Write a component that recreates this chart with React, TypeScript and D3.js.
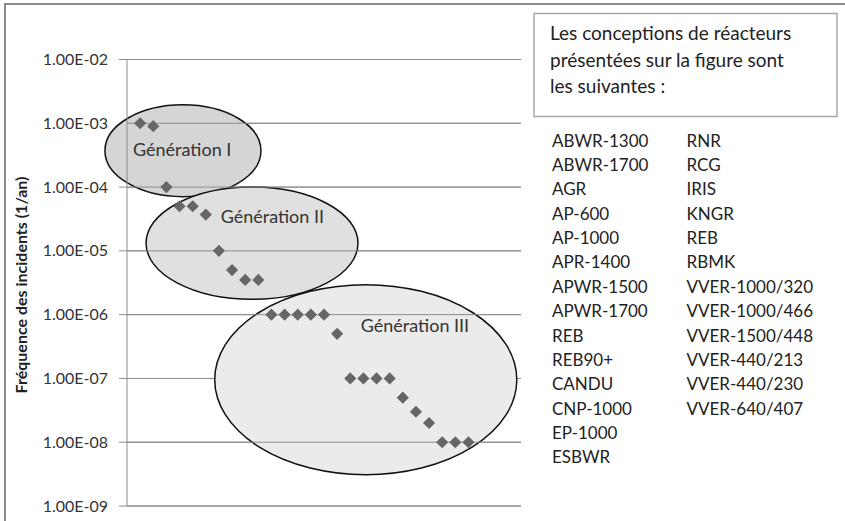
import React from 'react';
import * as d3 from 'd3';

// fréquence des incidents (1/an), one point per reactor design
const designIndex = [1, 2, 3, 4, 5, 6, 7, 8, 9, 10, 11, 12, 13, 14, 15, 16, 17, 18, 19, 20, 21, 22, 23, 24, 25, 26];
const frequencies = [
  1e-3, 9e-4, 1e-4, 5e-5, 5e-5, 3.7e-5, 1e-5, 5e-6, 3.5e-6, 3.5e-6,
  1e-6, 1e-6, 1e-6, 1e-6, 1e-6, 5e-7, 1e-7, 1e-7, 1e-7, 1e-7,
  5e-8, 3e-8, 2e-8, 1e-8, 1e-8, 1e-8,
];

const yTicks = [1e-2, 1e-3, 1e-4, 1e-5, 1e-6, 1e-7, 1e-8, 1e-9];
const yTickLabels = ['1.00E-02', '1.00E-03', '1.00E-04', '1.00E-05', '1.00E-06', '1.00E-07', '1.00E-08', '1.00E-09'];
// gridline hidden under the Génération III shape in the original
const hiddenGrid = [1e-7];

// generation groups: centre (x index, log10 value), radii (x units, decades)
const genNames = ['Génération I', 'Génération II', 'Génération III'];
const genCx = [4.26, 9.52, 18.18];
const genCy = [-3.43, -4.88, -7.02];
const genRx = [5.94, 8.07, 11.5];
const genRy = [0.72, 0.88, 1.49];
const genLabelX = [0.46, 7.13, 17.8];
const genLabelY = [-3.52, -4.56, -6.27];
const genFill = ['#d5d5d5', '#e0e0e0', '#ebebeb'];

const introLines = ['Les conceptions de réacteurs', 'présentées sur la figure sont', 'les suivantes :'];
const designsCol1 = [
  'ABWR-1300', 'ABWR-1700', 'AGR', 'AP-600', 'AP-1000', 'APR-1400', 'APWR-1500',
  'APWR-1700', 'REB', 'REB90+', 'CANDU', 'CNP-1000', 'EP-1000', 'ESBWR',
];
const designsCol2 = [
  'RNR', 'RCG', 'IRIS', 'KNGR', 'REB', 'RBMK', 'VVER-1000/320', 'VVER-1000/466',
  'VVER-1500/448', 'VVER-440/213', 'VVER-440/230', 'VVER-640/407',
];

const W = 845;
const H = 521;
const left = 127;
const right = 521;
const top = 59.5;
const bottom = 506;
const font = 'Lato, "Open Sans", sans-serif';

const App: React.FC = () => {
  const x = d3.scaleLinear().domain([0, 30]).range([left, right]);
  const y = d3.scaleLog().domain([1e-9, 1e-2]).range([bottom, top]);
  const diamond = d3.symbol().type(d3.symbolSquare).size(74)();
  const pxPerDecade = y(1e-3) - y(1e-2);

  return (
    <svg width={W} height={H} style={{ position: 'absolute', left: 0, top: 0, background: '#fff' }}>
      <rect x={5} y={4} width={W + 10} height={H + 10} fill="#fff" stroke="#8a8a8a" strokeWidth={2} />

      {/* ticks, labels and gridlines under the shapes */}
      {yTicks.map((t, i) => (
        <g key={i}>
          <line x1={left - 8} x2={right} y1={y(t)} y2={y(t)} stroke="#8c8c8c" strokeWidth={1} />
          <text x={108} y={y(t)} dy="0.35em" textAnchor="end" fontFamily={font} fontSize={16} fill="#333">
            {yTickLabels[i]}
          </text>
        </g>
      ))}

      <text
        transform={`translate(21,285) rotate(-90)`}
        textAnchor="middle"
        dy="0.35em"
        fontFamily={font}
        fontWeight="bold"
        fontSize={16}
        fill="#222"
      >
        Fréquence des incidents (1/an)
      </text>

      {/* generation ellipses */}
      {genNames.map((g, i) => (
        <ellipse
          key={g}
          cx={x(genCx[i])}
          cy={y(Math.pow(10, genCy[i]))}
          rx={x(genRx[i]) - x(0)}
          ry={genRy[i] * pxPerDecade}
          fill={genFill[i]}
          stroke="#111"
          strokeWidth={1.5}
        />
      ))}
      {yTicks
        .filter((t) => !hiddenGrid.includes(t))
        .map((t, i) => (
          <line key={i} x1={left} x2={right} y1={y(t)} y2={y(t)} stroke="#8c8c8c" strokeWidth={1} />
        ))}
      <line x1={left} x2={left} y1={top} y2={bottom} stroke="#8c8c8c" strokeWidth={1} />

      {genNames.map((g, i) => (
        <text
          key={g}
          x={x(genLabelX[i])}
          y={y(Math.pow(10, genLabelY[i]))}
          fontFamily={font}
          fontSize={18}
          fill="#333"
        >
          {g}
        </text>
      ))}

      {/* points */}
      {designIndex.map((d, i) => (
        <path
          key={i}
          d={diamond}
          transform={`translate(${x(d)},${y(frequencies[i])}) rotate(45)`}
          fill="#666"
        />
      ))}

      {/* intro box */}
      <rect x={534} y={13.5} width={303} height={103} fill="#fff" stroke="#a8a8a8" strokeWidth={1.5} />
      {introLines.map((l, i) => (
        <text key={i} x={550} y={40 + i * 26.7} fontFamily={font} fontSize={19} fill="#222">
          {l}
        </text>
      ))}

      {designsCol1.map((l, i) => (
        <text key={'a' + i} x={552} y={146.7 + i * 24.35} fontFamily={font} fontSize={17} fill="#222">
          {l}
        </text>
      ))}
      {designsCol2.map((l, i) => (
        <text key={'b' + i} x={686.5} y={146.7 + i * 24.35} fontFamily={font} fontSize={17} fill="#222">
          {l}
        </text>
      ))}
    </svg>
  );
};

export default App;
